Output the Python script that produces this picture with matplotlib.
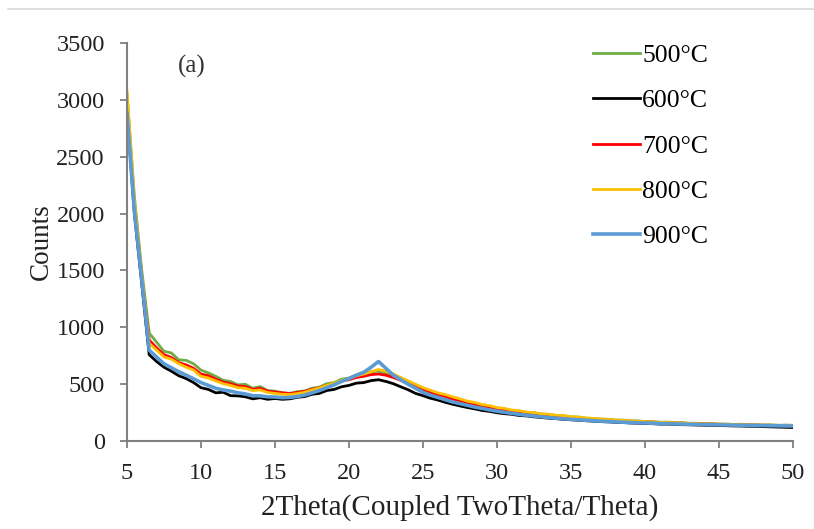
import matplotlib
matplotlib.use("Agg")
import matplotlib.pyplot as plt
import numpy as np
from matplotlib.lines import Line2D

plt.rcParams["font.family"] = ["Liberation Serif", "DejaVu Serif"]

# ─── dados ──────────────────────────────────────────────────────────────────
two_theta = np.arange(5.0, 50.5, 0.5)

c500 = [3050, 2150, 1500, 950, 870, 790, 775, 715, 710, 680,
        625, 600, 570, 535, 525, 495, 500, 465, 480, 445,
        440, 425, 420, 435, 440, 465, 475, 505, 515, 545,
        555, 580, 585, 610, 615, 600, 570, 555, 515, 495,
        455, 440, 415, 405, 375, 365, 340, 335, 310, 305,
        285, 282, 268, 265, 252, 250, 238, 236, 226, 224,
        212, 212, 202, 200, 194, 193, 186, 186, 178, 179,
        172, 173, 166, 168, 162, 163, 157, 158, 154, 155,
        150, 151, 147, 149, 145, 146, 142, 144, 140, 142, 140]

c600 = [2900, 2000, 1380, 760, 700, 650, 615, 575, 550, 515,
        470, 455, 425, 430, 400, 398, 390, 372, 382, 368,
        375, 368, 372, 385, 392, 412, 420, 445, 455, 478,
        490, 510, 515, 532, 540, 525, 505, 478, 452, 420,
        400, 378, 362, 342, 325, 310, 296, 284, 270, 262,
        250, 242, 236, 226, 222, 214, 208, 202, 198, 192,
        188, 184, 180, 176, 172, 170, 166, 164, 160, 158,
        155, 154, 150, 150, 147, 145, 144, 142, 140, 139,
        138, 136, 134, 133, 131, 130, 128, 126, 124, 122, 120]

c700 = [2950, 2080, 1450, 890, 820, 760, 735, 690, 670, 640,
        590, 575, 545, 520, 505, 485, 480, 455, 465, 440,
        432, 425, 418, 428, 438, 455, 470, 490, 505, 530,
        540, 560, 570, 585, 590, 580, 560, 535, 505, 480,
        450, 428, 408, 392, 370, 355, 335, 325, 305, 298,
        282, 275, 262, 258, 246, 242, 232, 228, 220, 216,
        208, 205, 198, 195, 190, 187, 182, 180, 175, 173,
        170, 168, 164, 163, 160, 158, 155, 154, 152, 150,
        149, 147, 146, 144, 143, 141, 140, 139, 137, 136, 135]

c800 = [3080, 2120, 1470, 860, 800, 740, 720, 680, 650, 625,
        570, 555, 530, 505, 490, 470, 465, 445, 450, 428,
        420, 412, 410, 418, 430, 450, 468, 490, 510, 535,
        550, 575, 590, 610, 630, 615, 590, 560, 530, 500,
        470, 448, 425, 410, 390, 372, 352, 340, 322, 312,
        296, 288, 274, 268, 256, 250, 240, 236, 228, 224,
        216, 212, 204, 200, 195, 192, 186, 184, 178, 176,
        172, 170, 166, 165, 161, 160, 156, 155, 152, 151,
        150, 148, 147, 146, 144, 143, 142, 140, 139, 138, 138]

c900 = [2880, 2020, 1420, 800, 740, 680, 645, 610, 580, 548,
        515, 490, 465, 450, 440, 425, 415, 400, 398, 390,
        388, 382, 385, 392, 405, 425, 445, 470, 495, 525,
        550, 580, 605, 650, 700, 640, 580, 540, 500, 465,
        430, 405, 385, 365, 345, 330, 315, 300, 288, 275,
        264, 254, 245, 236, 228, 221, 214, 208, 202, 197,
        192, 188, 184, 180, 176, 173, 170, 167, 164, 162,
        160, 158, 156, 154, 152, 150, 149, 147, 146, 145,
        144, 142, 141, 140, 139, 138, 137, 136, 135, 134, 134]

labels = ["500°C", "600°C", "700°C", "800°C", "900°C"]
series = [c500, c600, c700, c800, c900]
cores = ["#70AD47", "#000000", "#FF0000", "#FFC000", "#5B9BD5"]
larguras = [2.0, 2.0, 2.0, 2.0, 2.6]

# ─── figura ─────────────────────────────────────────────────────────────────
fig = plt.figure(figsize=(8.14, 5.29), dpi=100)
fig.patch.set_facecolor("white")
ax = fig.add_axes([0.156, 0.166, 0.818, 0.753])

for vals, lab, cor, lw in zip(series, labels, cores, larguras):
    ax.plot(two_theta, vals, color=cor, lw=lw, label=lab)

ax.set_xlim(5, 50)
ax.set_ylim(0, 3500)
ax.set_xticks(np.arange(5, 51, 5))
ax.set_yticks(np.arange(0, 3501, 500))

for s in ["top", "right"]:
    ax.spines[s].set_visible(False)
for s in ["left", "bottom"]:
    ax.spines[s].set_color("#808080")
    ax.spines[s].set_linewidth(1.5)

ax.tick_params(axis="both", direction="out", length=5, width=1.3,
               color="#808080", labelsize=17.5, labelcolor="#222222")
ax.tick_params(axis="y", pad=11)
ax.tick_params(axis="x", pad=11)

ax.set_xlabel("2Theta(Coupled TwoTheta/Theta)", fontsize=21, color="#222222",
              labelpad=7)
ax.set_ylabel("Counts", fontsize=19.5, color="#222222", labelpad=2)

ax.text(9.4, 3290, "(a)", fontsize=18, color="#333333",
        ha="center", va="center")

ax.legend(loc="upper left", bbox_to_anchor=(0.729, 0.917),
          bbox_transform=fig.transFigure, frameon=False, fontsize=18.5,
          handlelength=1.8, handletextpad=0.1, labelspacing=0.87,
          borderpad=0, borderaxespad=0)

# linha cinzenta no topo (borda da captura original)
fig.add_artist(Line2D([0.01, 1.0], [0.983, 0.983], transform=fig.transFigure,
                      color="#d9d9d9", lw=1.2))

fig.savefig("out.png", dpi=100, facecolor="white")
